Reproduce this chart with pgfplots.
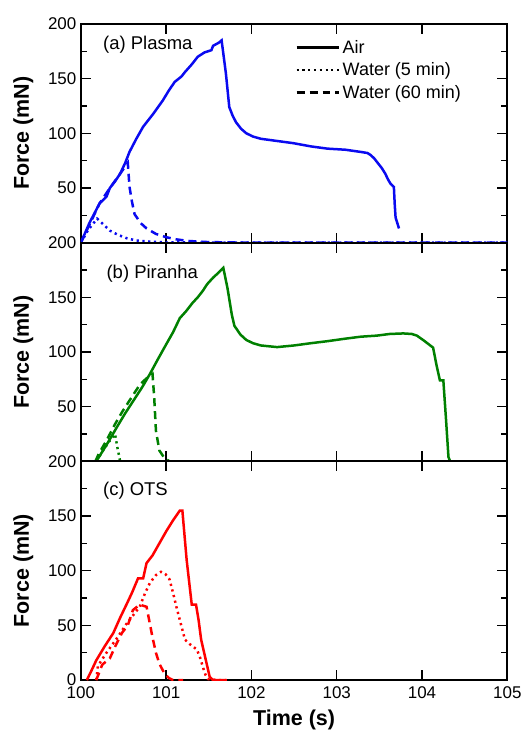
\documentclass[border=0pt]{standalone}
\usepackage{pgfplots}
\pgfplotsset{compat=1.18}
\usepackage{fontspec}
\setmainfont{Liberation Sans}
\definecolor{cblue}{HTML}{0A0AF0}
\definecolor{cgreen}{HTML}{008000}
\definecolor{cred}{HTML}{FF0000}

\pgfplotsset{
  panel/.style={
    width=427bp, height=219bp, scale only axis,
    xmin=100, xmax=105, ymin=0, ymax=200,
    xtick={100,...,105},
    tick align=inside,
    major tick length=10bp, minor tick length=6bp,
    tick style={black, line width=1.4bp},
    axis line style={line width=1.8bp},
    ylabel={\bfseries Force (mN)},
    ylabel style={font=\fontsize{21.5bp}{24bp}\selectfont, yshift=8bp},
    ticklabel style={font=\fontsize{17bp}{19bp}\selectfont},
    /pgf/number format/assume math mode=true,
    yticklabel style={xshift=-1bp},
    xticklabel style={yshift=-3bp},
    clip=true,
  },
  wet5/.style={line width=2.5bp, dash pattern=on 2.2bp off 3.6bp},
  wet60/.style={line width=2.5bp, dash pattern=on 8bp off 5bp},
  air/.style={line width=2.5bp},
}

\begin{document}
\begin{tikzpicture}
% (a) Plasma
\begin{axis}[panel, at={(0,0)},
  ytick={50,100,150,200}, minor ytick={25,75,125,175},
  xticklabels={},
  legend style={at={(axis cs:102.50,188)}, anchor=north west, draw=none, fill=none,
    font=\fontsize{18bp}{20bp}\selectfont, row sep=4bp, inner sep=1bp,
    /pgfplots/legend image code/.code={\draw[##1] (0bp,0bp) -- (43bp,0bp);}},
  legend cell align=left]
\addlegendimage{black, air}
\addlegendentry{Air}
\addlegendimage{black, wet5}
\addlegendentry{Water (5 min)}
\addlegendimage{black, wet60}
\addlegendentry{Water (60 min)}
\addplot[cblue, wet5] coordinates {
(100.00,0) (100.08,11) (100.19,22) (100.26,17) (100.34,11) (100.44,7) (100.54,4)
(100.65,2) (100.80,1) (101.00,0.3) (101.5,0) (105,0)};
\addplot[cblue, wet60] coordinates {
(100.00,0) (100.22,36) (100.34,50) (100.46,63) (100.55,73) (100.57,51) (100.60,37)
(100.63,26) (100.70,18) (100.77,13) (100.88,8) (101.00,5) (101.12,3) (101.27,1.5)
(101.5,0.5) (102,0) (105,0)};
\addplot[cblue, air] coordinates {
(100.00,0) (100.10,18) (100.22,36) (100.30,42) (100.34,50) (100.40,56) (100.46,63)
(100.52,73) (100.57,83) (100.65,95) (100.73,106) (100.85,118) (100.96,130)
(101.03,139) (101.10,147) (101.18,152) (101.22,156) (101.30,163) (101.37,170)
(101.45,174) (101.53,176) (101.55,180) (101.62,183) (101.65,185)
(101.70,155) (101.74,124) (101.78,116) (101.82,110) (101.88,104) (101.94,100)
(102.02,97) (102.11,95) (102.30,93) (102.49,91) (102.70,88) (102.89,86)
(103.10,85) (103.28,83) (103.36,82) (103.40,80) (103.44,77) (103.49,72)
(103.53,68) (103.57,63) (103.60,58) (103.63,54) (103.67,51) (103.68,35)
(103.69,23) (103.73,13)};
\node[anchor=west, font=\fontsize{18.5bp}{20bp}\selectfont] at (axis cs:100.22,181) {(a) Plasma};
\end{axis}

% (b) Piranha
\begin{axis}[panel, at={(0,-219bp)},
  ytick={50,100,150,200}, minor ytick={25,75,125,175},
  xticklabels={}]
\addplot[cgreen, wet5] coordinates {
(100.18,0) (100.26,10) (100.33,18) (100.40,25) (100.43,12) (100.46,0) (100.6,0)};
\addplot[cgreen, wet60] coordinates {
(100.17,0) (100.21,7) (100.30,19) (100.40,34) (100.49,46) (100.59,58) (100.69,70)
(100.77,76) (100.84,80) (100.86,58) (100.88,28) (100.92,10) (100.98,3) (101.04,0)
(101.3,0)};
\addplot[cgreen, air] coordinates {
(100.18,0) (100.30,15) (100.42,31) (100.52,44) (100.62,56) (100.72,68) (100.81,80)
(100.90,93) (101.00,107) (101.08,118) (101.16,131) (101.23,137) (101.31,145)
(101.37,150) (101.43,156) (101.48,162) (101.55,168) (101.62,173) (101.67,177)
(101.72,158) (101.77,134) (101.80,124) (101.87,116) (101.94,111) (102.02,108)
(102.11,106) (102.30,104.5) (102.50,106) (102.69,108) (102.90,110) (103.08,112)
(103.28,114) (103.47,115) (103.62,116.5) (103.78,117) (103.88,116.5)
(103.94,115) (104.03,110) (104.13,104) (104.17,88) (104.21,74) (104.25,74)
(104.28,40) (104.31,4) (104.33,0)};
\node[anchor=west, font=\fontsize{18.5bp}{20bp}\selectfont] at (axis cs:100.26,172) {(b) Piranha};
\end{axis}

% (c) OTS
\begin{axis}[panel, at={(0,-438bp)},
  ytick={0,50,100,150,200}, minor ytick={25,75,125,175},
  xlabel={\bfseries Time (s)},
  xlabel style={font=\fontsize{21.5bp}{24bp}\selectfont, yshift=-5bp}]
\addplot[cred, wet5] coordinates {
(100.18,0) (100.20,13) (100.30,25) (100.42,38) (100.54,52) (100.62,60) (100.69,67)
(100.75,79) (100.81,89) (100.88,96) (100.94,99) (100.99,97) (101.04,92)
(101.08,80) (101.12,67) (101.17,52) (101.22,37) (101.29,32) (101.36,28)
(101.40,20) (101.43,12) (101.46,5) (101.49,1) (101.60,0) (101.72,0)};
\addplot[cred, wet60] coordinates {
(100.18,0) (100.25,14) (100.34,20) (100.41,32) (100.48,43) (100.55,50)
(100.61,64) (100.69,69) (100.77,67) (100.80,55) (100.84,39) (100.88,25)
(100.92,15) (100.98,6) (101.03,2) (101.08,0) (101.2,0)};
\addplot[cred, air] coordinates {
(100.07,0) (100.12,8) (100.18,18) (100.28,31) (100.38,43) (100.46,57)
(100.54,70) (100.60,80) (100.67,93) (100.73,93) (100.77,107) (100.84,114)
(100.92,125) (101.00,136) (101.08,146) (101.16,155) (101.19,155)
(101.24,110) (101.30,69) (101.35,69) (101.38,55) (101.41,37) (101.46,20)
(101.51,3) (101.55,0) (101.70,0)};
\node[anchor=west, font=\fontsize{18.5bp}{20bp}\selectfont] at (axis cs:100.22,173) {(c) OTS};
\end{axis}
\pgfresetboundingbox
\path[use as bounding box] (-81bp,-490bp) rectangle (441bp,243bp);
\end{tikzpicture}
\end{document}
